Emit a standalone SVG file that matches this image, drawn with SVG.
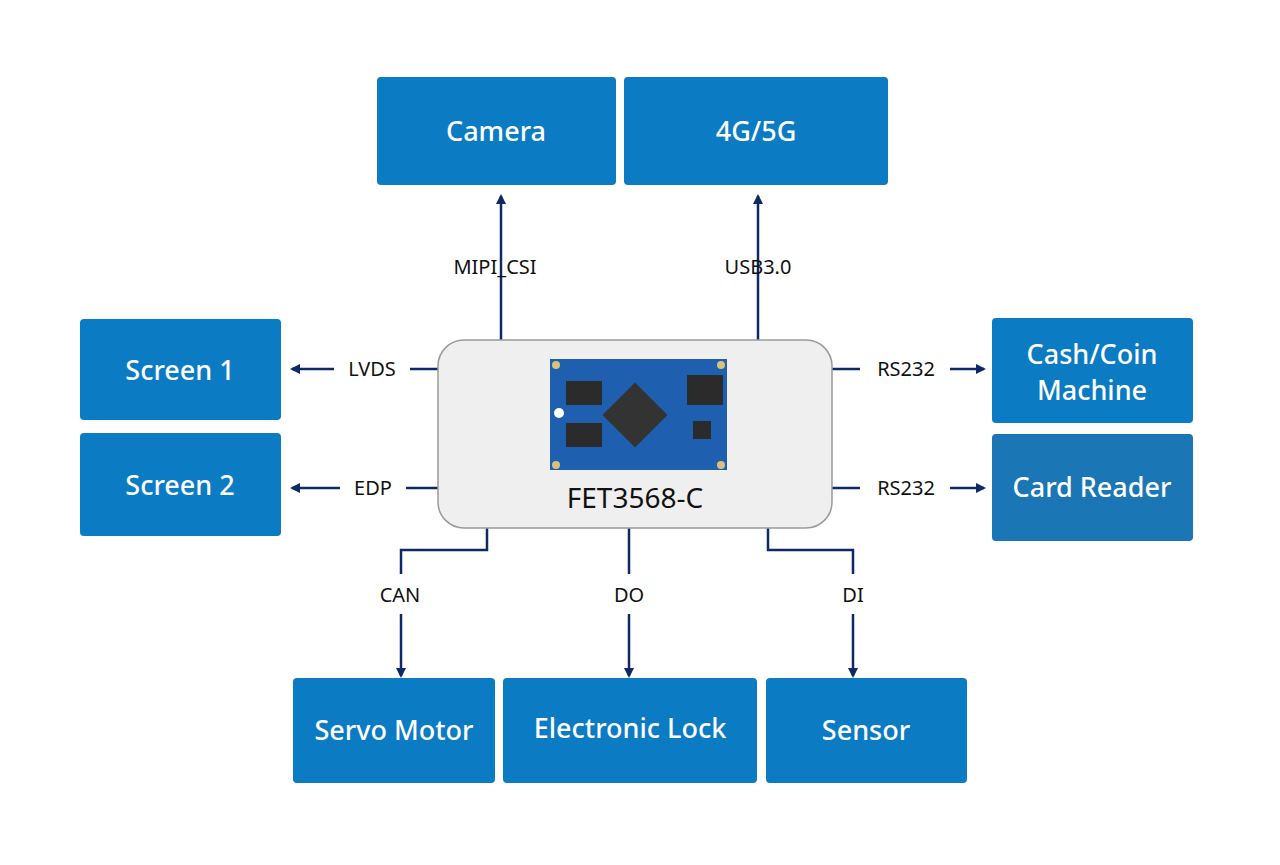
<svg xmlns="http://www.w3.org/2000/svg" width="1280" height="865" viewBox="0 0 1280 865">
<style>
.box{fill:#0b7bc4;}
.bt{font-family:"Noto Sans",sans-serif;font-size:27px;font-weight:500;fill:#fff;text-anchor:middle;}
.lb{font-family:"Noto Sans",sans-serif;font-size:20px;fill:#111;text-anchor:middle;}
.ln{fill:none;stroke:#0d2a66;stroke-width:2.5;}
</style>
<defs><marker id="ar" markerWidth="10" markerHeight="10" refX="8" refY="5" orient="auto" markerUnits="userSpaceOnUse" viewBox="0 0 10 10"><path d="M0,0 L10,5 L0,10 z" fill="#0d2a66"/></marker></defs>
<rect width="1280" height="865" fill="#fff"/>
<g id="connectors">
<path class="ln" d="M501,340 V196" marker-end="url(#ar)"/>
<path class="ln" d="M758,340 V196" marker-end="url(#ar)"/>
<path class="ln" d="M438,369 H410 M334,369 H292" marker-end="url(#ar)"/>
<path class="ln" d="M438,488 H406 M340,488 H292" marker-end="url(#ar)"/>
<path class="ln" d="M832,369 H860 M950,369 H984" marker-end="url(#ar)"/>
<path class="ln" d="M832,488 H860 M950,488 H984" marker-end="url(#ar)"/>
<path class="ln" d="M487,528 V550 H401 V574 M401,614 V676" marker-end="url(#ar)"/>
<path class="ln" d="M629,528 V574 M629,614 V676" marker-end="url(#ar)"/>
<path class="ln" d="M768,528 V550 H853 V574 M853,614 V676" marker-end="url(#ar)"/>
<text class="lb" x="495" y="274">MIPI_CSI</text>
<text class="lb" x="758" y="274">USB3.0</text>
<text class="lb" x="372" y="376">LVDS</text>
<text class="lb" x="373" y="495">EDP</text>
<text class="lb" x="906" y="376">RS232</text>
<text class="lb" x="906" y="495">RS232</text>
<text class="lb" x="400" y="602">CAN</text>
<text class="lb" x="629" y="602">DO</text>
<text class="lb" x="853" y="602">DI</text>
</g>
<g id="camera"><rect class="box" x="377" y="77" width="239" height="108" rx="4"/><text class="bt" x="496" y="141">Camera</text></g>
<g id="g4g5g"><rect class="box" x="624" y="77" width="264" height="108" rx="4"/><text class="bt" x="756" y="141">4G/5G</text></g>
<g id="screen1"><rect class="box" x="80" y="319" width="201" height="101" rx="4"/><text class="bt" x="180" y="380">Screen 1</text></g>
<g id="screen2"><rect class="box" x="80" y="433" width="201" height="103" rx="4"/><text class="bt" x="180" y="495">Screen 2</text></g>
<g id="cash"><rect class="box" x="992" y="318" width="201" height="105" rx="4"/><text class="bt" x="1092" y="364">Cash/Coin</text><text class="bt" x="1092" y="400">Machine</text></g>
<g id="card"><rect x="992" y="434" width="201" height="107" rx="4" fill="#1a76b4"/><text class="bt" x="1092" y="497">Card Reader</text></g>
<g id="servo"><rect class="box" x="293" y="678" width="202" height="105" rx="4"/><text class="bt" x="394" y="740">Servo Motor</text></g>
<g id="lock"><rect class="box" x="503" y="678" width="254" height="105" rx="4"/><text class="bt" x="630" y="738">Electronic Lock</text></g>
<g id="sensor"><rect class="box" x="766" y="678" width="201" height="105" rx="4"/><text class="bt" x="866" y="740">Sensor</text></g>
<g id="fet">
<rect x="438" y="340" width="394" height="188" rx="26" fill="#efefef" stroke="#9a9a9a" stroke-width="1.5"/>
<rect x="550" y="359" width="177" height="111" fill="#1e5fb0"/>
<rect x="566" y="381" width="36" height="24" fill="#2b2b2b"/>
<rect x="566" y="423" width="36" height="24" fill="#2b2b2b"/>
<rect x="687" y="375" width="36" height="30" fill="#2b2b2b"/>
<rect x="693" y="421" width="18" height="18" fill="#2b2b2b"/>
<rect x="612" y="392" width="46" height="46" fill="#333" transform="rotate(45 635 415)"/>
<circle cx="556" cy="365" r="4" fill="#d8c27a"/><circle cx="721" cy="365" r="4" fill="#d8c27a"/>
<circle cx="556" cy="465" r="4" fill="#d8c27a"/><circle cx="721" cy="465" r="4" fill="#d8c27a"/>
<circle cx="559" cy="413" r="5" fill="#fff"/>
<text x="635" y="508" font-family="Noto Sans,sans-serif" font-size="28" fill="#111" text-anchor="middle">FET3568-C</text>
</g>
</svg>
